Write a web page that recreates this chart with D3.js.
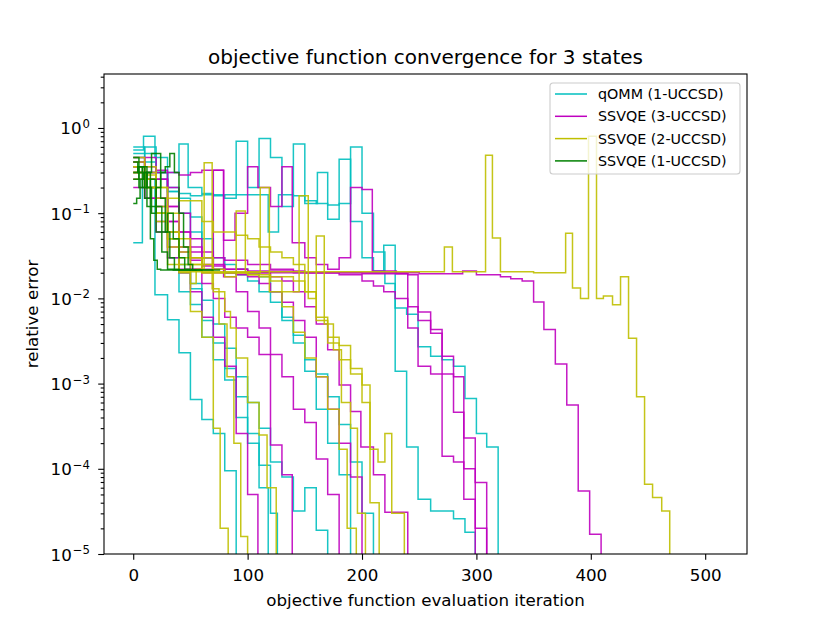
<!DOCTYPE html>
<html>
<head>
<meta charset="utf-8">
<script src="https://cdn.jsdelivr.net/npm/d3@7"></script>
<style>
  body { margin: 0; background: #fff; }
  text { font-family: "DejaVu Sans", sans-serif; fill: #000; }
</style>
</head>
<body>
<div id="chart"></div>
<script>
const seriesNames = ["qOMM (1-UCCSD)", "SSVQE (3-UCCSD)", "SSVQE (2-UCCSD)", "SSVQE (1-UCCSD)"];
const COLORS = ["#00bfbf", "#bf00bf", "#bfbf00", "#008000"];
const iterTicks = [0, 100, 200, 300, 400, 500];
const errTicks = [1e-5, 1e-4, 1e-3, 1e-2, 1e-1, 1];
const errExponents = ["\u22125", "\u22124", "\u22123", "\u22122", "\u22121", "0"];

// each run: [iteration, relative error] at the points where the value changes
const qommRuns = [
  [[0,0.55],[9,0.8],[19,0.45],[30,0.3],[40,0.65],[48,0.2],[60,0.17],[70,0.16],[80,0.15],[90,0.7],[100,0.2],[110,0.75],[120,0.45],[130,0.12],[140,0.65],[150,0.13],[161,0.3],[170,0.125],[180,0.43],[190,0.08],[200,0.03],[210,0.021],[219,0.042],[229,0.0014],[239,1.8e-4],[249,4.4e-5],[260,3.2e-5],[280,2.6e-5],[290,1.8e-5],[299,1e-6]],
  [[0,0.45],[10,0.6],[20,0.3],[30,0.18],[40,0.17],[50,0.16],[60,0.165],[100,0.165],[118,0.06],[127,0.165],[140,0.16],[150,0.14],[160,0.13],[170,0.085],[180,0.13],[190,0.6],[200,0.1],[210,0.035],[220,0.015],[229,0.0077],[239,0.0065],[249,0.0027],[260,0.0021],[270,0.0019],[280,0.0016],[290,6.7e-4],[300,2.6e-4],[309,1.8e-4],[319,1e-6]],
  [[0,0.045],[8,0.25],[19,0.011],[30,0.0056],[40,0.0023],[50,6.5e-4],[60,3.8e-4],[70,2.6e-4],[80,9.5e-5],[90,1e-6]],
  [[0,0.5],[10,0.4],[20,0.3],[30,0.06],[40,0.012],[50,0.0085],[60,0.0035],[70,0.0019],[80,0.0011],[90,4e-4],[100,2e-4],[110,6e-5],[118,1e-6]],
  [[0,0.4],[10,0.25],[20,0.1],[30,0.03],[40,0.02],[50,0.013],[60,0.0055],[70,0.003],[80,0.0015],[90,7e-4],[100,2.6e-4],[110,1.1e-4],[120,3e-5],[126,1e-6]],
  [[0,0.6],[10,0.5],[20,0.3],[30,0.18],[40,0.1],[50,0.06],[60,0.03],[70,0.022],[80,0.02],[90,0.019],[100,0.016],[110,0.012],[120,0.009],[130,0.0055],[140,0.0037],[150,0.0014],[160,5e-4],[170,2e-4],[180,8.5e-5],[190,1e-6]],
  [[0,0.35],[10,0.3],[20,0.25],[30,0.2],[40,0.15],[50,0.09],[60,0.05],[70,0.03],[80,0.025],[90,0.022],[100,0.02],[110,0.018],[120,0.012],[130,0.006],[140,0.003],[150,0.0019],[160,0.0013],[170,7e-4],[180,3.3e-4],[190,1.2e-4],[200,3e-5],[210,1e-6]],
  [[0,0.3],[10,0.2],[20,0.1],[30,0.05],[40,0.025],[50,0.015],[60,0.0095],[70,0.005],[80,0.0026],[90,0.0012],[100,6e-4],[110,3e-4],[120,1.2e-4],[130,8e-5],[140,3.2e-5],[150,6e-5],[160,1.9e-5],[170,1e-6]]
];

const ssvqe3Runs = [
  [[0,0.3],[10,0.15],[20,0.06],[30,0.03],[40,0.022],[60,0.02],[150,0.02],[250,0.0195],[288,0.021],[300,0.019],[321,0.018],[330,0.017],[340,0.016],[350,0.0091],[359,0.0043],[369,0.0017],[379,5.6e-4],[389,5.5e-5],[399,1.7e-5],[409,1e-6]],
  [[0,0.45],[10,0.3],[20,0.32],[30,0.3],[40,0.28],[50,0.3],[60,0.32],[70,0.32],[79,0.048],[89,0.1],[100,0.35],[109,0.2],[120,0.12],[130,0.35],[139,0.045],[150,0.03],[160,0.025],[170,0.022],[180,0.03],[190,0.2],[200,0.19],[209,0.021],[230,0.0195],[240,0.0045],[249,0.0016],[260,0.0013],[280,4.6e-4],[289,1e-4],[299,1e-6]],
  [[0,0.35],[10,0.25],[20,0.15],[30,0.08],[40,0.04],[50,0.028],[60,0.024],[80,0.022],[100,0.021],[150,0.02],[200,0.0195],[240,0.019],[249,0.0069],[260,0.0043],[270,0.0021],[280,0.0012],[289,2.3e-4],[299,6.9e-5],[309,1e-6]],
  [[0,0.4],[10,0.35],[20,0.25],[30,0.12],[40,0.06],[50,0.04],[60,0.035],[70,0.03],[80,0.028],[100,0.025],[120,0.022],[140,0.02],[180,0.019],[200,0.016],[210,0.014],[219,0.012],[229,0.01],[240,0.008],[249,0.0055],[260,0.0039],[270,1.4e-4],[280,1.2e-4],[289,4.4e-5],[299,2e-5],[309,1e-6]],
  [[0,0.25],[10,0.2],[20,0.12],[30,0.06],[40,0.04],[50,0.03],[60,0.025],[80,0.022],[100,0.02],[120,0.018],[130,0.016],[140,0.012],[150,0.008],[160,0.005],[170,0.0025],[180,9.6e-4],[190,4.7e-4],[199,1.8e-4],[210,8.5e-5],[220,3.1e-5],[240,1e-6]],
  [[0,0.3],[10,0.25],[20,0.15],[30,0.08],[40,0.035],[50,0.022],[60,0.015],[70,0.01],[80,0.006],[90,0.0045],[100,0.0035],[110,0.0022],[120,1.9e-4],[130,8.5e-5],[139,1e-6]],
  [[0,0.2],[10,0.15],[20,0.08],[30,0.04],[40,0.02],[50,0.012],[60,0.006],[70,0.0035],[80,0.0016],[90,2.6e-4],[100,5e-5],[109,1e-6]],
  [[0,0.4],[10,0.3],[20,0.25],[30,0.12],[40,0.06],[50,0.035],[60,0.022],[70,0.32],[79,0.018],[90,0.012],[100,0.007],[110,0.0045],[120,0.0022],[130,0.0012],[140,5e-4],[150,3.5e-4],[160,1.3e-4],[170,5e-5],[180,1e-6]],
  [[0,0.35],[10,0.45],[20,0.3],[30,0.2],[40,0.1],[50,0.05],[60,0.03],[70,0.022],[80,0.02],[90,0.019],[100,0.018],[110,0.015],[120,0.012],[130,0.009],[140,0.0055],[150,0.0035],[160,0.0012],[170,5e-4],[180,2e-4],[190,8e-5],[200,1e-6]]
];

const ssvqe2Runs = [
  [[0,0.35],[10,0.25],[20,0.08],[30,0.025],[40,0.0205],[272,0.04],[279,0.0205],[308,0.48],[314,0.051],[321,0.0205],[350,0.02],[378,0.058],[384,0.0132],[391,0.01],[398,0.8],[405,0.01],[411,0.0107],[419,0.0084],[426,0.018],[433,0.0034],[440,7e-4],[447,6.6e-5],[454,4.6e-5],[462,3.2e-5],[469,1e-6]],
  [[0,0.3],[10,0.2],[20,0.1],[30,0.06],[40,0.04],[50,0.03],[60,0.025],[70,0.022],[80,0.02],[100,0.019],[120,0.018],[140,0.016],[150,0.012],[160,0.006],[170,0.0035],[180,0.0028],[190,0.0015],[200,9.6e-4],[207,1.7e-4],[214,1.2e-4],[220,2.6e-4],[226,3e-5],[237,1e-6]],
  [[0,0.35],[10,0.3],[20,0.12],[30,0.05],[40,0.02],[50,0.007],[60,0.0035],[70,3e-4],[76,2e-5],[83,1e-6]],
  [[0,0.4],[10,0.2],[20,0.1],[30,0.04],[40,0.025],[50,0.015],[55,0.022],[62,0.39],[69,0.013],[75,0.005],[82,0.0012],[88,2e-4],[94,1.6e-5],[100,1e-6]],
  [[0,0.3],[10,0.2],[20,0.1],[30,0.05],[40,0.03],[50,0.025],[60,0.03],[70,0.02],[80,0.018],[90,0.106],[98,0.02],[111,0.2],[119,0.012],[130,0.008],[140,0.004],[150,0.002],[160,0.0012],[170,5e-4],[180,1.7e-4],[187,2e-5],[195,1e-6]],
  [[0,0.25],[10,0.28],[20,0.15],[30,0.06],[40,0.035],[50,0.025],[60,0.02],[100,0.019],[110,0.018],[120,0.016],[130,0.012],[145,0.16],[153,0.01],[160,0.054],[167,0.005],[175,0.0025],[182,6e-4],[190,3e-4],[196,3e-5],[203,1e-6]],
  [[0,0.45],[10,0.35],[20,0.2],[30,0.1],[40,0.05],[50,0.03],[60,0.02],[70,0.012],[80,0.007],[85,0.0045],[90,0.002],[100,6e-4],[110,2.5e-4],[117,6e-5],[125,1e-6]],
  [[0,0.3],[10,0.25],[20,0.2],[30,0.15],[40,0.14],[50,0.14],[60,0.08],[70,0.06],[90,0.055],[100,0.05],[110,0.04],[120,0.035],[130,0.03],[140,0.025],[150,0.012],[160,0.0055],[170,0.003],[180,0.0019],[190,0.0013],[200,6e-4],[207,4e-5],[215,1e-6]]
];

const ssvqe1Runs = [
  [[0,0.13],[3,0.15],[6,0.25],[9,0.3],[12,0.12],[15,0.05],[18,0.028],[21,0.022],[24,0.0215],[76,0.0215]],
  [[0,0.3],[4,0.35],[8,0.2],[12,0.3],[16,0.5],[20,0.5],[24,0.15],[28,0.06],[32,0.03],[36,0.022],[40,0.0215],[60,0.0215]],
  [[0,0.4],[4,0.3],[8,0.35],[12,0.2],[16,0.1],[20,0.2],[24,0.3],[28,0.35],[32,0.5],[36,0.3],[40,0.1],[44,0.04],[48,0.025],[52,0.0215],[70,0.0215]],
  [[0,0.25],[5,0.35],[10,0.15],[15,0.25],[20,0.12],[25,0.06],[30,0.1],[35,0.05],[40,0.03],[45,0.022],[50,0.0215],[55,0.0215]],
  [[0,0.45],[5,0.2],[10,0.3],[15,0.12],[20,0.06],[25,0.035],[30,0.022],[35,0.0215],[50,0.0215]]
];

const allRuns = [qommRuns, ssvqe3Runs, ssvqe2Runs, ssvqe1Runs];

const width = 830;
const height = 623;
const margin = { top: 74, right: 83, bottom: 69, left: 104 };
const yTop = 4.3;

const svg = d3.select("#chart").append("svg")
  .attr("width", width)
  .attr("height", height);

const x = d3.scaleLinear()
  .domain([-25.55, 536.55])
  .range([margin.left, width - margin.right]);

const y = d3.scaleLog()
  .domain([1e-5, yTop])
  .range([height - margin.bottom, margin.top]);

svg.append("clipPath").attr("id", "plot")
  .append("rect")
  .attr("x", margin.left).attr("y", margin.top)
  .attr("width", width - margin.left - margin.right)
  .attr("height", height - margin.top - margin.bottom);

const line = d3.line()
  .x((d) => x(d[0]))
  .y((d) => y(d[1]))
  .curve(d3.curveStepAfter);

const plot = svg.append("g").attr("clip-path", "url(#plot)");

allRuns.forEach((runs, i) => {
  plot.selectAll(null)
    .data(runs)
    .enter()
    .append("path")
    .attr("d", line)
    .attr("fill", "none")
    .attr("stroke", COLORS[i])
    .attr("stroke-width", 1.5)
    .attr("stroke-opacity", 0.9);
});

// axes
const xAxis = svg.append("g")
  .attr("transform", `translate(0,${height - margin.bottom})`)
  .call(d3.axisBottom(x).tickValues(iterTicks).tickSize(5.8).tickPadding(9).tickSizeOuter(0));
xAxis.selectAll("text").attr("font-size", "16.7px").attr("font-family", "DejaVu Sans");

const minorTicks = [];
for (let e = -5; e <= 0; e++) {
  for (let k = 2; k <= 9; k++) {
    const v = k * Math.pow(10, e);
    if (v <= yTop) minorTicks.push(v);
  }
}

svg.append("g")
  .attr("transform", `translate(${margin.left},0)`)
  .call(d3.axisLeft(y).tickValues(errTicks).tickSize(5.8).tickFormat("").tickSizeOuter(0));
svg.append("g")
  .attr("transform", `translate(${margin.left},0)`)
  .call(d3.axisLeft(y).tickValues(minorTicks).tickSize(3.3).tickFormat("").tickSizeOuter(0));

svg.selectAll(".tick line").attr("stroke-width", 1.1);

const yLabels = svg.append("g");
errTicks.forEach((t, i) => {
  const txt = yLabels.append("text")
    .attr("x", margin.left - 14)
    .attr("y", y(t) + 6.5)
    .attr("text-anchor", "end")
    .attr("font-size", "16.7px");
  txt.append("tspan").text("10");
  txt.append("tspan")
    .attr("font-size", "11.7px")
    .attr("dx", 1)
    .attr("dy", -6.5)
    .text(errExponents[i]);
});

// frame
svg.selectAll(".domain").remove();
svg.append("rect")
  .attr("x", margin.left).attr("y", margin.top)
  .attr("width", width - margin.left - margin.right)
  .attr("height", height - margin.top - margin.bottom)
  .attr("fill", "none")
  .attr("stroke", "#000")
  .attr("stroke-width", 1.1);

// titles
svg.append("text")
  .attr("x", (margin.left + width - margin.right) / 2)
  .attr("y", 64)
  .attr("text-anchor", "middle")
  .attr("font-size", "20px")
  .text("objective function convergence for 3 states");

svg.append("text")
  .attr("x", (margin.left + width - margin.right) / 2)
  .attr("y", 606)
  .attr("text-anchor", "middle")
  .attr("font-size", "16.7px")
  .text("objective function evaluation iteration");

svg.append("text")
  .attr("transform", `translate(38,${(margin.top + height - margin.bottom) / 2}) rotate(-90)`)
  .attr("text-anchor", "middle")
  .attr("font-size", "16.7px")
  .text("relative error");

// legend
const legend = svg.append("g").attr("transform", "translate(550,83)");
legend.append("rect")
  .attr("width", 190).attr("height", 91)
  .attr("rx", 3)
  .attr("fill", "#fff").attr("fill-opacity", 0.8)
  .attr("stroke", "#cccccc").attr("stroke-width", 1.1);
seriesNames.forEach((name, i) => {
  const ry = 11 + i * 22.3;
  legend.append("line")
    .attr("x1", 5).attr("x2", 37)
    .attr("y1", ry).attr("y2", ry)
    .attr("stroke", COLORS[i]).attr("stroke-width", 1.5);
  legend.append("text")
    .attr("x", 48).attr("y", ry + 5)
    .attr("font-size", "14.3px")
    .text(name);
});
</script>
</body>
</html>
